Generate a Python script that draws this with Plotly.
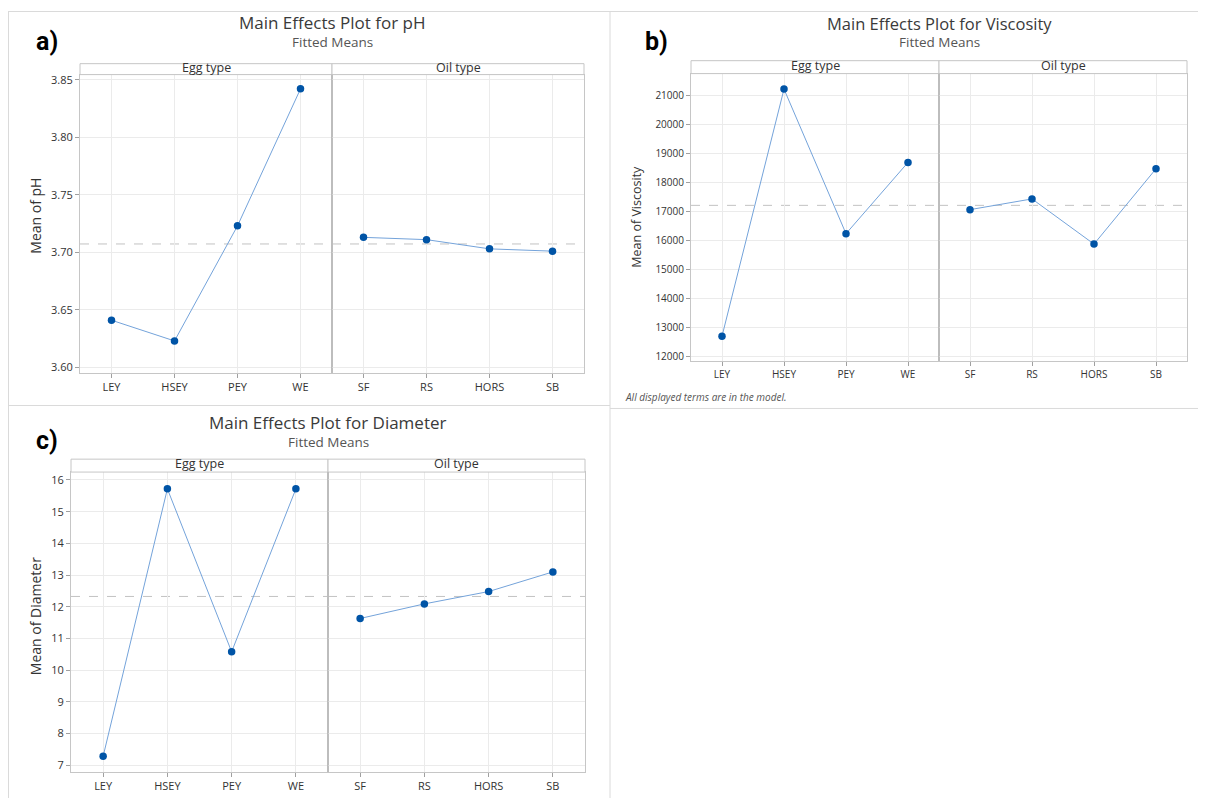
import plotly.graph_objects as go

# The page body has an 8px default margin, so the figure is drawn 8px in
OFF = 8
W, H = 1206 - 2 * OFF, 808 - 2 * OFF

egg_levels = ["LEY", "HSEY", "PEY", "WE"]
oil_levels = ["SF", "RS", "HORS", "SB"]

ph_egg = [3.641, 3.623, 3.723, 3.842]
ph_oil = [3.713, 3.711, 3.703, 3.701]

visc_egg = [12700, 21230, 16240, 18700]
visc_oil = [17070, 17440, 15880, 18480]

diam_egg = [7.28, 15.72, 10.58, 15.72]
diam_oil = [11.63, 12.09, 12.48, 13.10]

ph_ticks = [3.60, 3.65, 3.70, 3.75, 3.80, 3.85]
visc_ticks = list(range(12000, 21001, 1000))
diam_ticks = list(range(7, 17))

FONT = "Open Sans"
MARK = "#0054A6"
LINE = "#74A3DA"
GRID = "#ebebeb"
FRAME = "#c6c6c6"


def fx(px):
    return min(max((px - OFF) / W, 0), 1)


def fy(py):
    return min(max(1 - (py - OFF) / H, 0), 1)


panels = [
    dict(name="a)", title="Main Effects Plot for pH", ylabel="Mean of pH",
         egg=ph_egg, oil=ph_oil, ticks=ph_ticks, tickfmt=".2f",
         left=80, mid=332, right=584, top=72, bottom=372, strip=61,
         yrange=[3.5954, 3.8544], ylab_x=36, ylab_y=214, tfs=11, title_fs=17, lab_x=47,
         title_y=20, sub_y=39.5, lab_y=39, ylab_fs=14, sub_fs=13.5),
    dict(name="b)", title="Main Effects Plot for Viscosity", ylabel="Mean of Viscosity",
         egg=visc_egg, oil=visc_oil, ticks=visc_ticks, tickfmt="d",
         left=691, mid=939, right=1187, top=71, bottom=360, strip=58,
         yrange=[11853, 21765], ylab_x=637, ylab_y=215, tfs=10, title_fs=16.5, lab_x=656,
         title_y=21, sub_y=39, lab_y=39, ylab_fs=12.5, sub_fs=13.5),
    dict(name="c)", title="Main Effects Plot for Diameter", ylabel="Mean of Diameter",
         egg=diam_egg, oil=diam_oil, ticks=diam_ticks, tickfmt="d",
         left=71, mid=328, right=585, top=472, bottom=774, strip=459,
         yrange=[6.78, 16.25], ylab_x=35, ylab_y=617, tfs=11, title_fs=17, lab_x=47,
         title_y=422, sub_y=441.5, lab_y=440, ylab_fs=14, sub_fs=13.5),
]

fig = go.Figure()
layout = dict(
    width=W, height=H, margin=dict(l=0, r=0, t=0, b=0),
    paper_bgcolor="white", plot_bgcolor="white", showlegend=False,
    font=dict(family=FONT, color="#333333"),
)
annotations = []
shapes = []

ax = 0
for p in panels:
    ydom = [fy(p["bottom"]), fy(p["top"])]
    grand = sum(p["egg"]) / len(p["egg"])
    for side, (levels, vals) in enumerate([(egg_levels, p["egg"]), (oil_levels, p["oil"])]):
        ax += 1
        xname = "xaxis" if ax == 1 else f"xaxis{ax}"
        yname = "yaxis" if ax == 1 else f"yaxis{ax}"
        xref = "x" if ax == 1 else f"x{ax}"
        yref = "y" if ax == 1 else f"y{ax}"
        x0 = p["left"] if side == 0 else p["mid"]
        x1 = p["mid"] if side == 0 else p["right"]
        layout[xname] = dict(
            domain=[fx(x0), fx(x1)], anchor=yref, type="category",
            categoryorder="array", categoryarray=levels, range=[-0.5, 3.5],
            showgrid=True, gridcolor=GRID, gridwidth=1, showline=True,
            linecolor=FRAME, linewidth=1, mirror=True, ticks="outside",
            ticklen=4, tickcolor="#a0a0a0", zeroline=False,
            tickfont=dict(family=FONT, size=p["tfs"], color="#333333"),
        )
        ydict = dict(
            domain=ydom, anchor=xref, range=p["yrange"], tickvals=p["ticks"],
            tickformat=p["tickfmt"], showgrid=True, gridcolor=GRID, gridwidth=1,
            showline=True, linecolor=FRAME, linewidth=1, mirror=True,
            zeroline=False,
        )
        if side == 0:
            ydict.update(ticks="outside", ticklen=4, tickcolor="#a0a0a0",
                         tickfont=dict(family=FONT, size=p["tfs"], color="#333333"))
        else:
            ydict.update(showticklabels=False, ticks="", matches=("y" if ax - 1 == 1 else f"y{ax-1}"))
        layout[yname] = ydict

        fig.add_trace(go.Scatter(
            x=levels, y=vals, xaxis=xref, yaxis=yref, mode="lines+markers",
            line=dict(color=LINE, width=1),
            marker=dict(color=MARK, size=7.5),
            hoverinfo="skip",
        ))
        # grand mean reference line
        shapes.append(dict(type="line", xref=f"{xref} domain", yref=yref,
                           x0=0, x1=1, y0=grand, y1=grand,
                           line=dict(color="#c2c2c2", width=1, dash="dash"), layer="below"))
        # strip header
        shapes.append(dict(type="rect", xref="paper", yref="paper",
                           x0=fx(x0), x1=fx(x1), y0=fy(p["top"]), y1=fy(p["strip"]),
                           line=dict(color=FRAME, width=1), fillcolor="white"))
        annotations.append(dict(
            x=fx((x0 + x1) / 2), y=fy((p["top"] + p["strip"]) / 2 - 2), xref="paper", yref="paper",
            text="Egg type" if side == 0 else "Oil type", showarrow=False,
            xanchor="center", yanchor="middle",
            font=dict(family=FONT, size=12.5, color="#333333")))
    # divider
    shapes.append(dict(type="line", xref="paper", yref="paper",
                       x0=fx(p["mid"]), x1=fx(p["mid"]), y0=fy(p["bottom"]), y1=fy(p["top"]),
                       line=dict(color="#b4b4b4", width=1)))
    cx = (p["left"] + p["right"]) / 2
    annotations.append(dict(x=fx(cx), y=fy(p["title_y"]), xref="paper", yref="paper",
                            text=p["title"], showarrow=False, xanchor="center", yanchor="middle",
                            font=dict(family=FONT, size=p["title_fs"], color="#3a3a3a")))
    annotations.append(dict(x=fx(cx), y=fy(p["sub_y"]), xref="paper", yref="paper",
                            text="Fitted Means", showarrow=False, xanchor="center", yanchor="middle",
                            font=dict(family=FONT, size=p["sub_fs"], color="#555555")))
    annotations.append(dict(x=fx(p["ylab_x"]), y=fy(p["ylab_y"]), xref="paper",
                            yref="paper", text=p["ylabel"], showarrow=False, textangle=-90,
                            xanchor="center", yanchor="middle",
                            font=dict(family=FONT, size=p["ylab_fs"], color="#333333")))
    annotations.append(dict(x=fx(p["lab_x"]), y=fy(p["lab_y"]), xref="paper", yref="paper",
                            text="<b>" + p["name"] + "</b>", showarrow=False,
                            xanchor="center", yanchor="middle",
                            font=dict(family="Roboto", size=25, color="#000000")))

annotations.append(dict(x=fx(623), y=fy(396), xref="paper", yref="paper",
                        text="<i>All displayed terms are in the model.</i>", showarrow=False,
                        xanchor="left", yanchor="middle",
                        font=dict(family=FONT, size=10, color="#555555")))

# outer panel borders
BORDER = "#dadada"
for (a, b, c, d) in [(8, 8.5, 1206, 8.5), (610, 8, 610, 808), (8, 405, 610, 405),
                     (610, 408, 1206, 408), (8.5, 8, 8.5, 808)]:
    shapes.append(dict(type="line", xref="paper", yref="paper",
                       x0=fx(a), x1=fx(c), y0=fy(b), y1=fy(d),
                       line=dict(color=BORDER, width=1)))

layout["annotations"] = annotations
layout["shapes"] = shapes
fig.update_layout(**layout)
fig.write_html("out.html")
